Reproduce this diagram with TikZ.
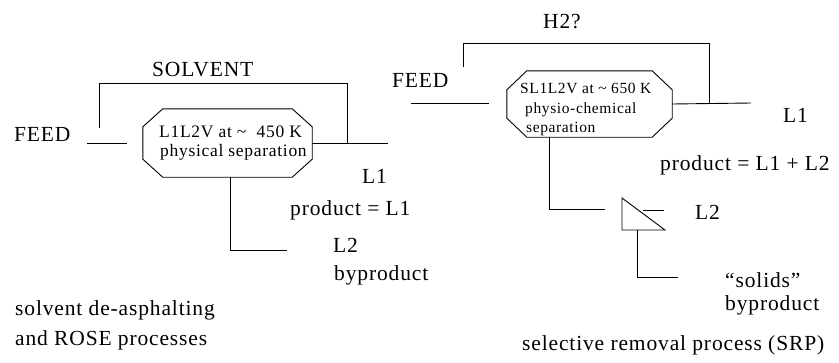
\documentclass[tikz,border=0pt]{standalone}
\usepackage{fontspec}
\setmainfont[LetterSpace=4]{Liberation Serif}
\usetikzlibrary{calc}
\begin{document}
\begin{tikzpicture}[x=1pt,y=-1pt,
  big/.style={font=\fontsize{21.5}{25}\selectfont, inner sep=0pt, anchor=base west},
  boxtxt/.style={font=\fontsize{17.5}{20}\selectfont, inner sep=0pt, anchor=base west},
  boxtxtb/.style={font=\fontsize{15.5}{18}\selectfont, inner sep=0pt, anchor=base west},
  ln/.style={draw=black, line width=0.9pt},
  frame/.style={inner sep=0pt, draw=none}]
\useasboundingbox (0,0) rectangle (839,362);
% ---------- left process ----------
\node[frame, minimum width=169pt, minimum height=68pt] (box1) at (227.5,143) {};
\draw[ln] ($(box1.north west)+(20,0)$) -- ($(box1.north east)+(-20,0)$)
  -- ($(box1.north east)+(0,18)$) -- ($(box1.south east)+(0,-18)$)
  -- ($(box1.south east)+(-20,0)$) -- ($(box1.south west)+(20,0)$)
  -- ($(box1.south west)+(0,-18)$) -- ($(box1.north west)+(0,18)$) -- cycle;
\node[boxtxt] (t1a) at (159,137) {L1L2V at \textasciitilde\ \ 450\ K};
\node[boxtxt] (t1b) at (160,156) {physical separation};
\node[big] (solv) at (152,76) {SOLVENT};
\node[big] (feed1) at (14,141) {FEED};
\node[big] (l1a) at (362,183) {L1};
\node[big] (prod1) at (290,215) {product = L1};
\node[big] (l2a) at (333,252) {L2};
\node[big] (byp1) at (334,280) {byproduct};
\node[big] (cap1a) at (15,315) {solvent de-asphalting};
\node[big] (cap1b) at (15,345) {and ROSE processes};
\coordinate (f1s) at (87,143);
\coordinate (f1e) at (127,143);
\coordinate (s1s) at (99,128);
\coordinate (o1e) at (388,143);
\coordinate (s1j) at (347,143);
\coordinate (b1e) at (287,250);
\draw[ln] (f1s) -- (f1e);
\draw[ln] (s1s) |- (347,83) -- (s1j);
\draw[ln] (box1.east) -- (o1e);
\draw[ln] ($(box1.south)+(2.5,0)$) |- (b1e);
% ---------- right process ----------
\node[frame, minimum width=165pt, minimum height=66pt] (box2) at (589.5,104) {};
\draw[ln] ($(box2.north west)+(20,0)$) -- ($(box2.north east)+(-20,0)$)
  -- ($(box2.north east)+(0,19)$) -- ($(box2.south east)+(0,-19)$)
  -- ($(box2.south east)+(-20,0)$) -- ($(box2.south west)+(20,0)$)
  -- ($(box2.south west)+(0,-19)$) -- ($(box2.north west)+(0,19)$) -- cycle;
\node[boxtxtb] (t2a) at (520,93) {SL1L2V at \textasciitilde{} 650 K};
\node[boxtxtb] (t2b) at (525,113) {physio-chemical};
\node[boxtxtb] (t2c) at (526,132) {separation};
\node[big] (h2) at (543,28) {H2?};
\node[big] (feed2) at (392,87) {FEED};
\node[big] (l1b) at (783,122) {L1};
\node[big] (prod2) at (660,170) {product = L1 + L2};
\node[big] (l2b) at (695,219) {L2};
\node[big] (sol) at (725,287) {“solids”};
\node[big] (byp2) at (725,310) {byproduct};
\node[big] (cap2) at (522,350) {selective removal process (SRP)};
\coordinate (f2s) at (411,103);
\coordinate (f2e) at (489,103);
\coordinate (h2s) at (463,67);
\coordinate (h2j) at (709,103);
\coordinate (o2e) at (751,103);
\coordinate (tr1) at (622,198);
\coordinate (tr2) at (622,230);
\coordinate (tr3) at (665,230);
\coordinate (tl2s) at (643,210);
\coordinate (tl2e) at (664,210);
\coordinate (sd) at (637,230);
\coordinate (sde) at (678,277);
\draw[ln] (f2s) -- (f2e);
\draw[ln] (h2s) |- (709,43) -- (h2j);
\draw[ln] (box2.east) -- (o2e);
\draw[ln] ($(box2.south)+(-40.5,0)$) |- (605,209);
\draw[ln] (tr1) -- (tr2) -- (tr3) -- cycle;
\draw[ln] (tl2s) -- (tl2e);
\draw[ln] (sd) |- (sde);
\end{tikzpicture}
\end{document}
